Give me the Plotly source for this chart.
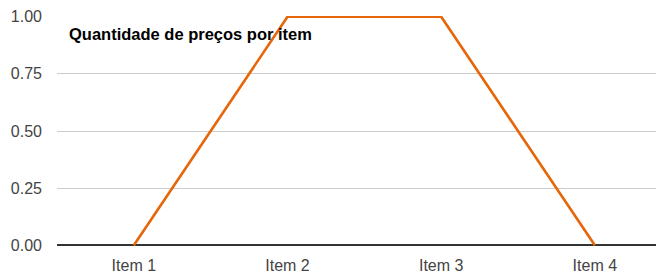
import plotly.graph_objects as go

categories = ["Item 1", "Item 2", "Item 3", "Item 4"]
values = [0, 1, 1, 0]
y_ticks = [0, 0.25, 0.5, 0.75, 1.0]
y_tick_labels = ["0.00", "0.25", "0.50", "0.75", "1.00"]
title_text = "Quantidade de preços por item"

fig = go.Figure()
fig.add_trace(go.Scatter(
    x=list(range(len(categories))), y=values, mode="lines",
    line=dict(color="#e6670a", width=2.6), hoverinfo="skip", showlegend=False,
))

# page body has an 8px default margin, so the figure is offset by 8px
fig.update_layout(
    width=656, height=265,
    margin=dict(l=49, r=0, t=8, b=27),
    paper_bgcolor="white", plot_bgcolor="white",
    font=dict(family="Liberation Sans, Arial, sans-serif", size=16, color="#444444"),
    annotations=[dict(
        text="<b>" + title_text + "</b>", xref="paper", yref="paper",
        x=0.0165, y=0.922, xanchor="left", yanchor="middle", showarrow=False,
        font=dict(family="Liberation Sans, Arial, sans-serif", size=16.5, color="#000000"),
    )],
)
fig.update_xaxes(
    range=[-0.5, 3.45], tickmode="array", tickvals=list(range(len(categories))),
    ticktext=categories, showgrid=False, zeroline=False, showline=False,
    ticks="", ticklabelstandoff=8, fixedrange=True, automargin=False,
)
fig.update_yaxes(
    range=[-0.003, 1.003], tickmode="array", tickvals=y_ticks, ticktext=y_tick_labels,
    showgrid=True, gridcolor="#cccccc", gridwidth=1,
    zeroline=True, zerolinecolor="#333333", zerolinewidth=2,
    showline=False, ticks="", ticklabelstandoff=14, fixedrange=True, automargin=False,
)

fig.write_html("out.html", config={"displayModeBar": False})
